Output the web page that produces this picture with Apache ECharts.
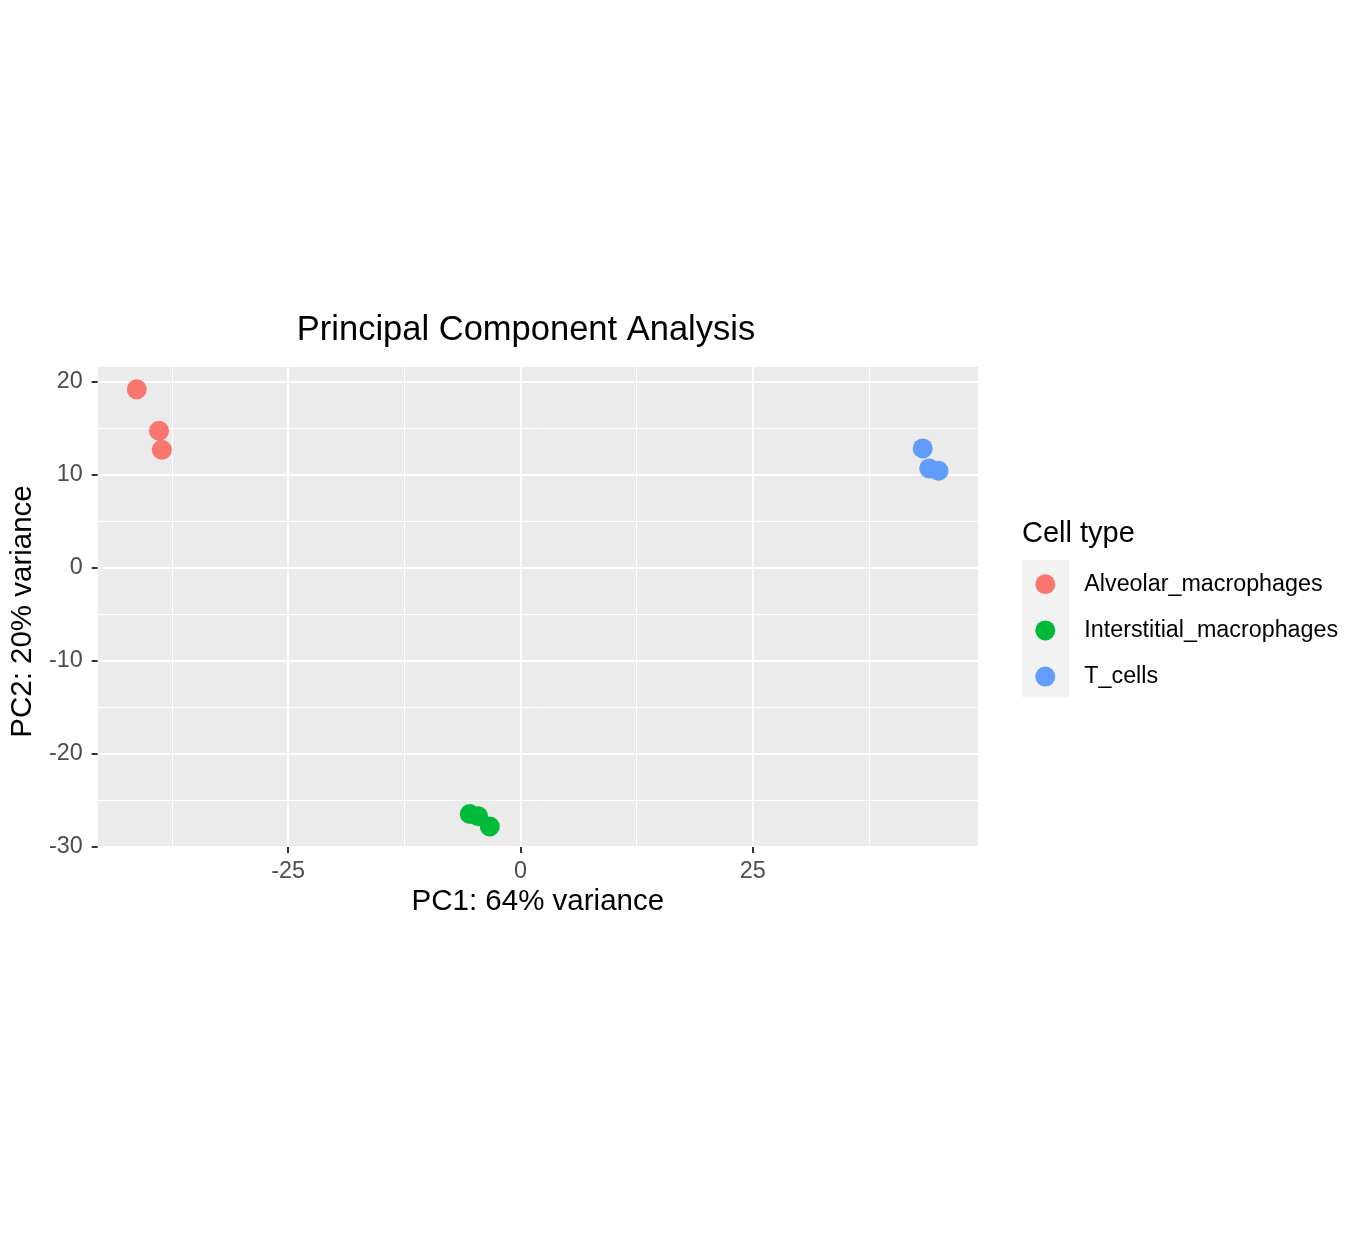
<!DOCTYPE html>
<html>
<head>
  <meta charset="utf-8">
  <title>PCA</title>
  <script src="https://cdn.jsdelivr.net/npm/echarts@6/dist/echarts.min.js"></script>
  <style>
    html, body { margin: 0; padding: 0; background: #ffffff; }
  </style>
</head>
<body>
  <div id="main" style="width: 1368px;height:1238px;"></div>
  <script type="text/javascript">
    // point coordinates: [PC1, PC2]
    var alveolar = [[-41.3, 19.2], [-38.9, 14.75], [-38.6, 12.7]];
    var interstitial = [[-5.45, -26.45], [-4.55, -26.7], [-3.3, -27.8]];
    var tCells = [[43.3, 12.85], [44.0, 10.7], [45.0, 10.45]];

    var groupNames = ['Alveolar_macrophages', 'Interstitial_macrophages', 'T_cells'];
    var groupColors = ['#F8766D', '#00BA38', '#619CFF'];

    var xMajor = [-25, 0, 25];
    var xMinor = [-37.5, -12.5, 12.5, 37.5];
    var yMajor = [-30, -20, -10, 0, 10, 20];
    var yMinor = [-25, -15, -5, 5, 15];
    var xRange = [-45.5, 49.25];
    var yRange = [-30, 21.6];

    var font = '"Liberation Sans", Arial, Helvetica, sans-serif';

    var myChart = echarts.init(document.getElementById('main'));

    var option = {
      animation: false,
      backgroundColor: '#ffffff',
      textStyle: { fontFamily: font },
      title: [
        {
          text: 'Principal Component Analysis',
          left: 521,
          top: 308,
          textAlign: 'center',
          textStyle: { fontFamily: font, fontSize: 34.5, fontWeight: 'normal', color: '#000000' }
        },
        {
          text: 'Cell type',
          left: 1022,
          top: 519,
          padding: 0,
          textStyle: { fontFamily: font, fontSize: 29, fontWeight: 'normal', color: '#000000' }
        }
      ],
      graphic: [
        {
          // legend key backdrop
          type: 'rect',
          z: -1,
          shape: { x: 1022, y: 560, width: 47, height: 137 },
          style: { fill: '#F2F2F2' }
        }
      ],
      legend: {
        orient: 'vertical',
        left: 1035.3,
        top: 572.7,
        padding: 0,
        itemWidth: 20,
        itemHeight: 20,
        itemGap: 23.2,
        icon: 'circle',
        data: groupNames,
        textStyle: {
          fontFamily: font, fontSize: 23.3, color: '#000000', lineHeight: 20,
          padding: [0, 0, 0, 24]
        }
      },
      grid: {
        left: 97,
        right: 1368 - 978,
        top: 367,
        bottom: 1238 - 847,
        show: true,
        backgroundColor: '#EBEBEB',
        borderWidth: 0
      },
      xAxis: [
        {
          type: 'value',
          min: xRange[0],
          max: xRange[1],
          name: 'PC1: 64% variance',
          nameLocation: 'middle',
          nameGap: 40,
          nameTextStyle: { fontFamily: font, fontSize: 29.5, color: '#000000' },
          axisLine: { show: false, onZero: false },
          axisTick: { show: true, length: 6, customValues: xMajor, lineStyle: { color: '#333333', width: 2 } },
          axisLabel: { customValues: xMajor, margin: 13, fontFamily: font, fontSize: 23.4, color: '#4D4D4D' },
          splitLine: { show: true, lineStyle: { color: '#ffffff', width: 2 } },
          z: 3
        },
        {
          type: 'value',
          min: xRange[0],
          max: xRange[1],
          axisLine: { show: false, onZero: false },
          axisTick: { show: false, customValues: xMinor },
          axisLabel: { show: false },
          splitLine: { show: true, lineStyle: { color: '#ffffff', width: 1 } },
          z: 2
        }
      ],
      yAxis: [
        {
          type: 'value',
          min: yRange[0],
          max: yRange[1],
          name: 'PC2: 20% variance',
          nameLocation: 'middle',
          nameGap: 58,
          nameTextStyle: { fontFamily: font, fontSize: 29.5, color: '#000000', padding: [0, 9, 0, 0] },
          axisLine: { show: false, onZero: false },
          axisTick: { show: true, length: 6, customValues: yMajor, lineStyle: { color: '#333333', width: 2 } },
          axisLabel: { customValues: yMajor, margin: 15, fontFamily: font, fontSize: 23.4, color: '#4D4D4D' },
          splitLine: { show: true, lineStyle: { color: '#ffffff', width: 2 } },
          z: 3
        },
        {
          type: 'value',
          min: yRange[0],
          max: yRange[1],
          axisLine: { show: false, onZero: false },
          axisTick: { show: false, customValues: yMinor },
          axisLabel: { show: false },
          splitLine: { show: true, lineStyle: { color: '#ffffff', width: 1 } },
          z: 2
        }
      ],
      series: [
        {
          name: groupNames[0],
          type: 'scatter',
          symbol: 'circle',
          symbolSize: 20,
          itemStyle: { color: groupColors[0], opacity: 1 },
          data: alveolar,
          z: 5
        },
        {
          name: groupNames[1],
          type: 'scatter',
          symbol: 'circle',
          symbolSize: 20,
          itemStyle: { color: groupColors[1], opacity: 1 },
          data: interstitial,
          z: 5
        },
        {
          name: groupNames[2],
          type: 'scatter',
          symbol: 'circle',
          symbolSize: 20,
          itemStyle: { color: groupColors[2], opacity: 1 },
          data: tCells,
          z: 5
        }
      ]
    };
    myChart.setOption(option);
  </script>
</body>
</html>
